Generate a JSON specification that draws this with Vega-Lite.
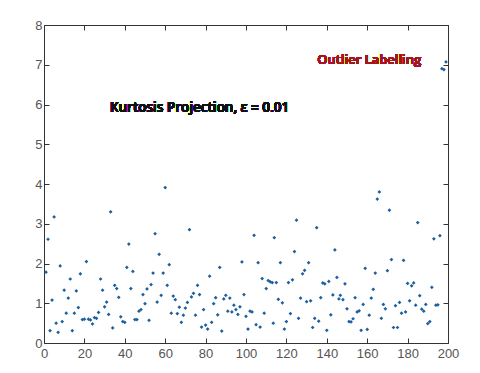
{
  "$schema": "https://vega.github.io/schema/vega-lite/v6.json",
  "autosize": {"type": "none"},
  "width": 404,
  "height": 318,
  "padding": {"left": 44, "top": 25, "right": 32, "bottom": 30},
  "background": "white",
  "config": {
    "view": {"stroke": "#333", "strokeWidth": 1},
    "axis": {"grid": false, "domain": false, "labelFont": "Liberation Sans", "labelFontSize": 13, "labelColor": "#555", "tickColor": "#333", "tickSize": -5, "labelPadding": 3}
  },
  "data": {"values": [
    {"x":1,"y":1.78},{"x":2,"y":2.61},{"x":3,"y":0.31},{"x":4,"y":1.08},{"x":5,"y":3.17},{"x":6,"y":0.5},{"x":7,"y":0.27},{"x":8,"y":1.94},{"x":9,"y":0.54},{"x":10,"y":1.33},
    {"x":11,"y":0.75},{"x":12,"y":1.13},{"x":13,"y":1.61},{"x":14,"y":0.31},{"x":15,"y":0.75},{"x":16,"y":1.31},{"x":17,"y":0.89},{"x":18,"y":1.74},{"x":19,"y":0.59},{"x":20,"y":0.6},
    {"x":21,"y":2.05},{"x":22,"y":0.6},{"x":23,"y":0.58},{"x":24,"y":0.48},{"x":25,"y":0.64},{"x":26,"y":0.62},{"x":27,"y":0.77},{"x":28,"y":1.61},{"x":29,"y":1.33},{"x":30,"y":0.91},
    {"x":31,"y":1.03},{"x":32,"y":0.72},{"x":33,"y":3.3},{"x":34,"y":0.38},{"x":35,"y":1.45},{"x":36,"y":1.37},{"x":37,"y":1.15},{"x":38,"y":0.66},{"x":39,"y":0.54},{"x":40,"y":0.52},
    {"x":41,"y":1.9},{"x":42,"y":2.49},{"x":43,"y":1.37},{"x":44,"y":1.8},{"x":45,"y":0.59},{"x":46,"y":0.59},{"x":47,"y":0.8},{"x":48,"y":0.84},{"x":49,"y":1.22},{"x":50,"y":0.99},
    {"x":51,"y":1.36},{"x":52,"y":0.57},{"x":53,"y":1.47},{"x":54,"y":1.76},{"x":55,"y":2.75},{"x":56,"y":1.03},{"x":57,"y":2.23},{"x":58,"y":1.2},{"x":59,"y":1.76},{"x":60,"y":3.91},
    {"x":61,"y":1.45},{"x":62,"y":1.97},{"x":63,"y":0.75},{"x":64,"y":1.18},{"x":65,"y":1.09},{"x":66,"y":0.74},{"x":67,"y":0.9},{"x":68,"y":0.52},{"x":69,"y":0.7},{"x":70,"y":0.88},
    {"x":71,"y":1.02},{"x":72,"y":2.85},{"x":73,"y":1.16},{"x":74,"y":1.25},{"x":75,"y":0.7},{"x":76,"y":1.45},{"x":77,"y":1.22},{"x":78,"y":0.4},{"x":79,"y":0.84},{"x":80,"y":0.45},
    {"x":81,"y":0.35},{"x":82,"y":1.68},{"x":83,"y":0.52},{"x":84,"y":0.99},{"x":85,"y":1.14},{"x":86,"y":0.71},{"x":87,"y":1.9},{"x":88,"y":0.3},{"x":89,"y":1.11},{"x":90,"y":1.2},
    {"x":91,"y":0.8},{"x":92,"y":1.13},{"x":93,"y":0.78},{"x":94,"y":0.95},{"x":95,"y":0.84},{"x":96,"y":0.72},{"x":97,"y":0.91},{"x":98,"y":2.04},{"x":99,"y":1.22},{"x":100,"y":0.67},
    {"x":101,"y":0.35},{"x":102,"y":0.8},{"x":103,"y":0.78},{"x":104,"y":2.71},{"x":105,"y":0.46},{"x":106,"y":2.02},{"x":107,"y":0.4},{"x":108,"y":1.62},{"x":109,"y":0.75},{"x":110,"y":1.37},
    {"x":111,"y":1.57},{"x":112,"y":1.54},{"x":113,"y":1.52},{"x":113.5,"y":0.5},{"x":114,"y":2.65},{"x":115,"y":1.52},{"x":116,"y":1.1},{"x":117,"y":2.02},{"x":118,"y":1.01},{"x":119,"y":0.35},
    {"x":120,"y":0.54},{"x":121,"y":1.52},{"x":122,"y":0.74},{"x":123,"y":1.59},{"x":124,"y":2.3},{"x":125,"y":3.09},{"x":126,"y":0.62},{"x":127,"y":1.13},{"x":128,"y":1.74},{"x":129,"y":1.83},
    {"x":130,"y":1.04},{"x":131,"y":2.02},{"x":132,"y":1.06},{"x":133,"y":0.39},{"x":134,"y":0.62},{"x":135,"y":2.9},{"x":136,"y":0.55},{"x":137,"y":1.14},{"x":138,"y":1.51},{"x":139,"y":1.49},
    {"x":140,"y":0.32},{"x":141,"y":1.55},{"x":142,"y":0.71},{"x":143,"y":1.21},{"x":144,"y":2.34},{"x":145,"y":1.65},{"x":146,"y":1.11},{"x":146.7,"y":1.2},{"x":148,"y":1.09},{"x":149,"y":1.49},
    {"x":150,"y":0.86},{"x":151,"y":0.54},{"x":152,"y":0.53},{"x":153,"y":0.61},{"x":154,"y":1.14},{"x":155,"y":0.78},{"x":156,"y":0.81},{"x":157,"y":0.32},{"x":158,"y":0.97},{"x":159,"y":1.88},
    {"x":160,"y":0.34},{"x":161,"y":0.7},{"x":162,"y":1.13},{"x":163,"y":1.35},{"x":164,"y":1.76},{"x":165,"y":3.62},{"x":166,"y":3.8},{"x":167,"y":0.62},{"x":168,"y":0.97},{"x":169,"y":0.86},
    {"x":170,"y":1.82},{"x":171,"y":3.34},{"x":172,"y":2.1},{"x":173,"y":0.39},{"x":174,"y":0.94},{"x":175,"y":0.39},{"x":176,"y":1.02},{"x":177,"y":0.75},{"x":178,"y":2.08},{"x":179,"y":0.78},
    {"x":180,"y":1.5},{"x":181,"y":1.06},{"x":182,"y":1.44},{"x":183,"y":1.51},{"x":184,"y":0.95},{"x":185,"y":3.03},{"x":186,"y":1.19},{"x":187,"y":0.85},{"x":188,"y":0.8},{"x":189,"y":0.97},
    {"x":190,"y":0.49},{"x":191,"y":0.54},{"x":192,"y":1.4},{"x":193,"y":2.62},{"x":194,"y":0.95},{"x":195,"y":0.96},{"x":196,"y":2.7},{"x":197,"y":6.9},{"x":198,"y":6.88},{"x":199,"y":7.07}
  ]},
  "layer": [
    {
      "mark": {"type": "point", "shape": "diamond", "filled": true, "size": 14, "color": "#1c5f9c", "opacity": 1},
      "encoding": {
        "x": {"field": "x", "type": "quantitative", "scale": {"domain": [0, 200], "nice": false}, "axis": {"title": null, "orient": "bottom", "values": [0,20,40,60,80,100,120,140,160,180,200], "labelFlush": false, "labelPadding": 9}},
        "y": {"field": "y", "type": "quantitative", "scale": {"domain": [0, 8], "nice": false}, "axis": {"title": null, "orient": "left", "values": [0,1,2,3,4,5,6,7,8], "labelPadding": 7}}
      }
    },
    {
      "mark": {"type": "point", "opacity": 0},
      "encoding": {
        "x": {"field": "x", "type": "quantitative", "scale": {"domain": [0, 200], "nice": false}, "axis": {"title": null, "orient": "top", "labels": false, "values": [0,20,40,60,80,100,120,140,160,180,200]}},
        "y": {"field": "y", "type": "quantitative", "scale": {"domain": [0, 8], "nice": false}, "axis": {"title": null, "orient": "right", "labels": false, "values": [0,1,2,3,4,5,6,7,8]}}
      }
    },
    {
      "mark": {"type": "text", "text": "Outlier Labelling", "font": "Open Sans", "fontWeight": 600, "fontSize": 13, "color": "#a3161c", "align": "center", "baseline": "middle"},
      "encoding": {"x": {"datum": 161, "type": "quantitative", "axis": null}, "y": {"datum": 7.12, "type": "quantitative", "axis": null}}
    },
    {
      "mark": {"type": "text", "text": "Kurtosis Projection,  \u03b5 = 0.01", "font": "Open Sans", "fontWeight": 600, "fontSize": 13.5, "color": "#111", "align": "center", "baseline": "middle"},
      "encoding": {"x": {"datum": 77, "type": "quantitative", "axis": null}, "y": {"datum": 5.91, "type": "quantitative", "axis": null}}
    }
  ],
  "resolve": {"axis": {"x": "independent", "y": "independent"}}
}
